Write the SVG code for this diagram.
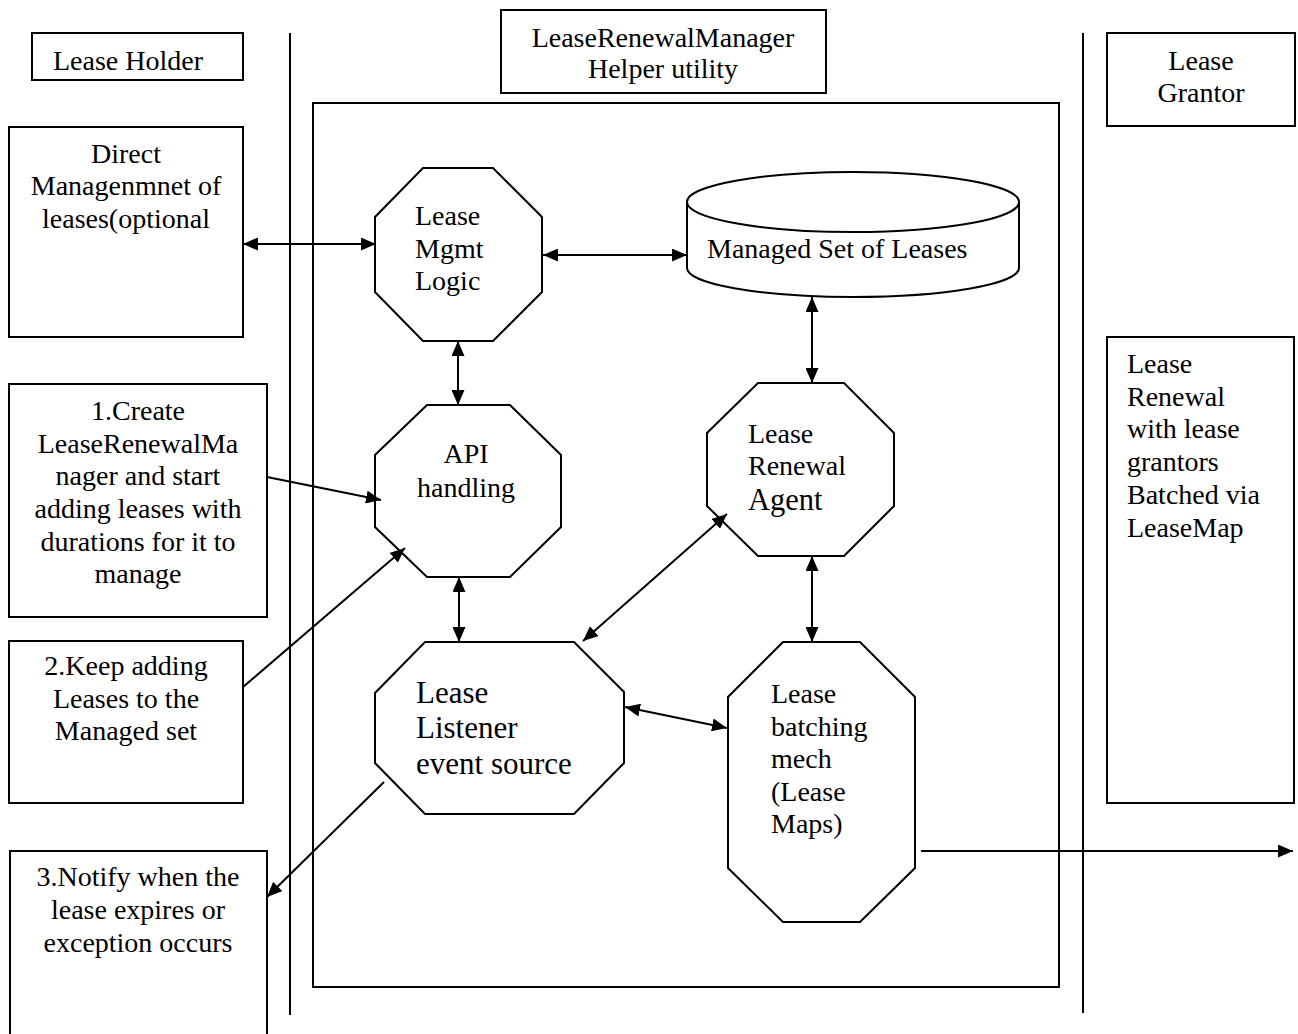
<svg xmlns="http://www.w3.org/2000/svg" width="1298" height="1034" viewBox="0 0 1298 1034">
<style>
text{font-family:"Liberation Serif","Times New Roman",serif;font-size:28px;fill:#000}
.c{text-anchor:middle}
.big{font-size:31px}
.shape{fill:#fff;stroke:#000;stroke-width:2}
.frame{fill:none;stroke:#000;stroke-width:2}
.conn line{stroke:#000;stroke-width:2}
</style>
<defs>
<marker id="ah" viewBox="0 0 15 13" refX="15" refY="6.5" markerWidth="15" markerHeight="13" markerUnits="userSpaceOnUse" orient="auto-start-reverse">
<path d="M0,0 L15,6.5 L0,13 Z" fill="#000"/>
</marker>
</defs>
<rect width="1298" height="1034" fill="#fff"/>

<g id="lanes">
<line x1="290" y1="33" x2="290" y2="1015" stroke="#000" stroke-width="2"/>
<line x1="1083" y1="33" x2="1083" y2="1013" stroke="#000" stroke-width="2"/>
</g>

<g id="helper-frame">
<rect class="frame" x="313" y="103" width="746" height="884"/>
</g>

<g id="lease-holder">
<rect class="shape" x="32" y="33" width="211" height="47"/>
<text x="53" y="70">Lease Holder</text>
</g>

<g id="helper-title">
<rect class="shape" x="501" y="10" width="325" height="83"/>
<text class="c" x="663" y="47">LeaseRenewalManager</text>
<text class="c" x="663" y="78">Helper utility</text>
</g>

<g id="lease-grantor">
<rect class="shape" x="1107" y="33" width="188" height="93"/>
<text class="c" x="1201" y="70">Lease</text>
<text class="c" x="1201" y="102">Grantor</text>
</g>

<g id="direct-mgmt">
<rect class="shape" x="9" y="127" width="234" height="210"/>
<text class="c" x="126" y="163">Direct</text>
<text class="c" x="126" y="195">Managenmnet of</text>
<text class="c" x="126" y="228">leases(optional</text>
</g>

<g id="step1">
<rect class="shape" x="9" y="384" width="258" height="233"/>
<text class="c" x="138" y="420">1.Create</text>
<text class="c" x="138" y="453">LeaseRenewalMa</text>
<text class="c" x="138" y="485">nager and start</text>
<text class="c" x="138" y="518">adding leases with</text>
<text class="c" x="138" y="551">durations for it to</text>
<text class="c" x="138" y="583">manage</text>
</g>

<g id="step2">
<rect class="shape" x="9" y="641" width="234" height="162"/>
<text class="c" x="126" y="675">2.Keep adding</text>
<text class="c" x="126" y="708">Leases to the</text>
<text class="c" x="126" y="740">Managed set</text>
</g>

<g id="step3">
<rect class="shape" x="10" y="851" width="257" height="200"/>
<text class="c" x="138" y="886">3.Notify when the</text>
<text class="c" x="138" y="919">lease expires or</text>
<text class="c" x="138" y="952">exception occurs</text>
</g>

<g id="lease-renewal">
<rect class="shape" x="1107" y="337" width="187" height="466"/>
<text x="1127" y="373">Lease</text>
<text x="1127" y="406">Renewal</text>
<text x="1127" y="438">with lease</text>
<text x="1127" y="471">grantors</text>
<text x="1127" y="504">Batched via</text>
<text x="1127" y="537">LeaseMap</text>
</g>

<g id="mgmt-logic">
<polygon class="shape" points="423,168 493,168 542,217 542,292 493,341 423,341 375,292 375,217"/>
<text x="415" y="225">Lease</text>
<text x="415" y="258">Mgmt</text>
<text x="415" y="290">Logic</text>
</g>

<g id="managed-set">
<path class="shape" d="M687,202 A166,30 0 0 1 1019,202 L1019,268 A166,29 0 0 1 687,268 Z"/>
<path class="frame" d="M687,202 A166,30 0 0 0 1019,202"/>
<text x="707" y="258">Managed Set of Leases</text>
</g>

<g id="api-handling">
<polygon class="shape" points="427,405 510,405 561,455 561,527 510,577 427,577 375,527 375,455"/>
<text class="c" x="466" y="463">API</text>
<text class="c" x="466" y="497">handling</text>
</g>

<g id="renewal-agent">
<polygon class="shape" points="758,383 844,383 894,433 894,506 844,556 758,556 707,506 707,433"/>
<text x="748" y="443">Lease</text>
<text x="748" y="475">Renewal</text>
<text x="748" y="510" style="font-size:30.5px">Agent</text>
</g>

<g id="listener">
<polygon class="shape" points="425,642 574,642 624,692 624,763 574,814 425,814 375,763 375,693"/>
<text class="big" x="416" y="703">Lease</text>
<text class="big" x="416" y="738">Listener</text>
<text class="big" x="416" y="774">event source</text>
</g>

<g id="batching">
<polygon class="shape" points="783,642 860,642 915,697 915,868 860,922 783,922 728,868 728,697"/>
<text x="771" y="703">Lease</text>
<text x="771" y="736">batching</text>
<text x="771" y="768">mech</text>
<text x="771" y="801">(Lease</text>
<text x="771" y="833">Maps)</text>
</g>

<g id="connectors" class="conn">
<line x1="243" y1="244" x2="376" y2="244" marker-start="url(#ah)" marker-end="url(#ah)"/>
<line x1="543" y1="255" x2="687" y2="255" marker-start="url(#ah)" marker-end="url(#ah)"/>
<line x1="458" y1="341" x2="458" y2="405" marker-start="url(#ah)" marker-end="url(#ah)"/>
<line x1="812" y1="297" x2="812" y2="383" marker-start="url(#ah)" marker-end="url(#ah)"/>
<line x1="267" y1="477" x2="381" y2="500" marker-end="url(#ah)"/>
<line x1="243" y1="687" x2="405" y2="548" marker-end="url(#ah)"/>
<line x1="459" y1="577" x2="459" y2="642" marker-start="url(#ah)" marker-end="url(#ah)"/>
<line x1="727" y1="514" x2="583" y2="641" marker-start="url(#ah)" marker-end="url(#ah)"/>
<line x1="812" y1="556" x2="812" y2="642" marker-start="url(#ah)" marker-end="url(#ah)"/>
<line x1="625" y1="707" x2="727" y2="728" marker-start="url(#ah)" marker-end="url(#ah)"/>
<line x1="384" y1="782" x2="267" y2="897" marker-end="url(#ah)"/>
<line x1="921" y1="851" x2="1293" y2="851" marker-end="url(#ah)"/>
</g>
</svg>
